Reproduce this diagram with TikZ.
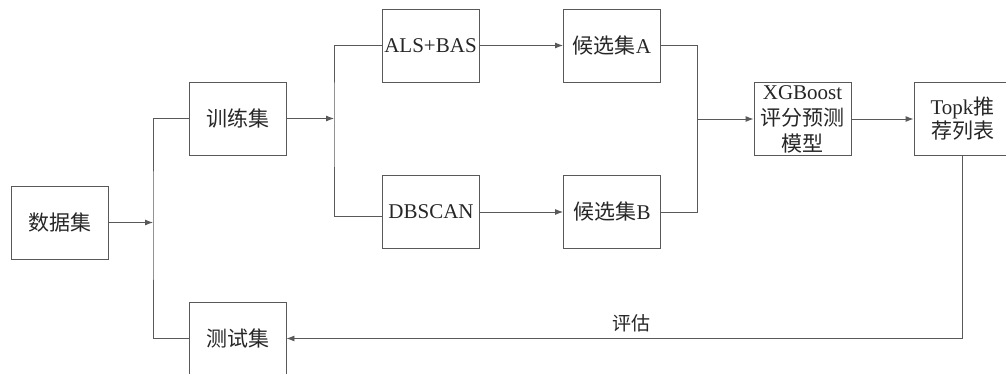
\documentclass[tikz,border=0pt]{standalone}
\usepackage{fontspec}
\setmainfont{Liberation Serif}
\newfontfamily\cjk{Noto Sans CJK SC}
\usetikzlibrary{arrows.meta, positioning}

\begin{document}
\begin{tikzpicture}[x=1pt, y=-1pt,
  box/.style={rectangle, draw=black!65, line width=0.9pt, minimum width=97pt, minimum height=73pt, inner sep=0pt, align=center, text=black!85, font=\fontsize{21}{24}\selectfont},
  line/.style={draw=black!65, line width=0.9pt},
  arrow/.style={line, -{Latex[length=8pt, width=6pt]}}]
  \useasboundingbox (0,0) rectangle (1006,374);
  \node [box] (data) at (59.5,222.5) {\cjk 数据集};
  \node [box] (train) at (237.5,118.5) {\cjk 训练集};
  \node [box] (test) at (237.5,338.5) {\cjk 测试集};
  \node [box] (als) at (430.5,45.5) {ALS+BAS};
  \node [box] (dbscan) at (431,212) {DBSCAN};
  \node [box] (candA) at (612,45.5) {{\cjk 候选集}A};
  \node [box] (candB) at (612,212) {{\cjk 候选集}B};
  \node [box, font=\fontsize{21}{26}\selectfont] (xgb) at (802.5,119) {XGBoost\\{\cjk 评分预测}\\{\cjk 模型}};
  \node [box] (topk) at (962.5,119) {Topk{\cjk 推}\\{\cjk 荐列表}};
  % split points
  \coordinate (split1) at (153,222.5);
  \coordinate (split2) at (334,118.5);
  \coordinate (merge) at (697,119);
  \draw [arrow] (data) -- (split1);
  \draw [line] (train.west) -| (split1) |- (test.west);
  \draw [arrow] (train) -- (split2);
  \draw [line] (als.west) -| (split2) |- ([yshift=-4.5pt]dbscan.west);
  \draw [arrow] (als) -- (candA);
  \draw [arrow] (dbscan) -- (candB);
  \draw [line] (candA.east) -| (merge) |- (candB.east);
  \draw [arrow] (merge) -- (xgb);
  \draw [arrow] (xgb) -- (topk);
  \draw [arrow] (topk.south) |- node[pos=0.745, above=6pt, inner sep=0pt, text=black!85, font=\fontsize{19}{22}\selectfont\cjk] {评估} (test.east);
\end{tikzpicture}
\end{document}
